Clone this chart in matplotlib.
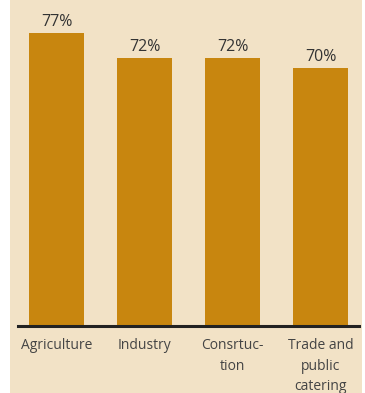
import matplotlib
matplotlib.use("Agg")
import matplotlib.pyplot as plt
from matplotlib.patches import Rectangle

sectors = ["Agriculture", "Industry", "Consrtuc-\ntion", "Trade and\npublic\ncatering"]
shares = [77, 72, 72, 70]
share_labels = ["77%", "72%", "72%", "70%"]

bg = "#f2e2c6"
bar_color = "#c8860f"
text_color = "#333333"

plt.rcParams["font.family"] = ["Open Sans", "DejaVu Sans"]

fig = plt.figure(figsize=(3.65, 3.93), dpi=100, facecolor="white")
# beige panel behind the chart, white strips at the sides
fig.patches.append(Rectangle((10 / 365, 0), 352 / 365, 1, transform=fig.transFigure,
                             facecolor=bg, edgecolor="none", zorder=-5))

ax = fig.add_axes([18 / 365, 67.2 / 393, 341 / 365, 325.8 / 393])
ax.set_facecolor("none")

x = range(len(sectors))
bars = ax.bar(x, shares, width=0.63, color=bar_color, zorder=2)
ax.bar_label(bars, labels=share_labels, padding=2, fontsize=11.5, color=text_color)

ax.set_xlim(-0.4375, 3.4375)
ax.set_ylim(18.9, 83.5)

for side in ["top", "left", "right"]:
    ax.spines[side].set_visible(False)
ax.spines["bottom"].set_linewidth(2.2)
ax.spines["bottom"].set_color("#222222")
ax.spines["bottom"].set_zorder(3)

ax.set_yticks([])
ax.set_xticks(list(x))
ax.set_xticklabels(sectors, fontsize=10, color="#444444", linespacing=1.5)
ax.tick_params(axis="x", length=0, pad=9)

fig.savefig("out.png", dpi=100, facecolor=fig.get_facecolor())
